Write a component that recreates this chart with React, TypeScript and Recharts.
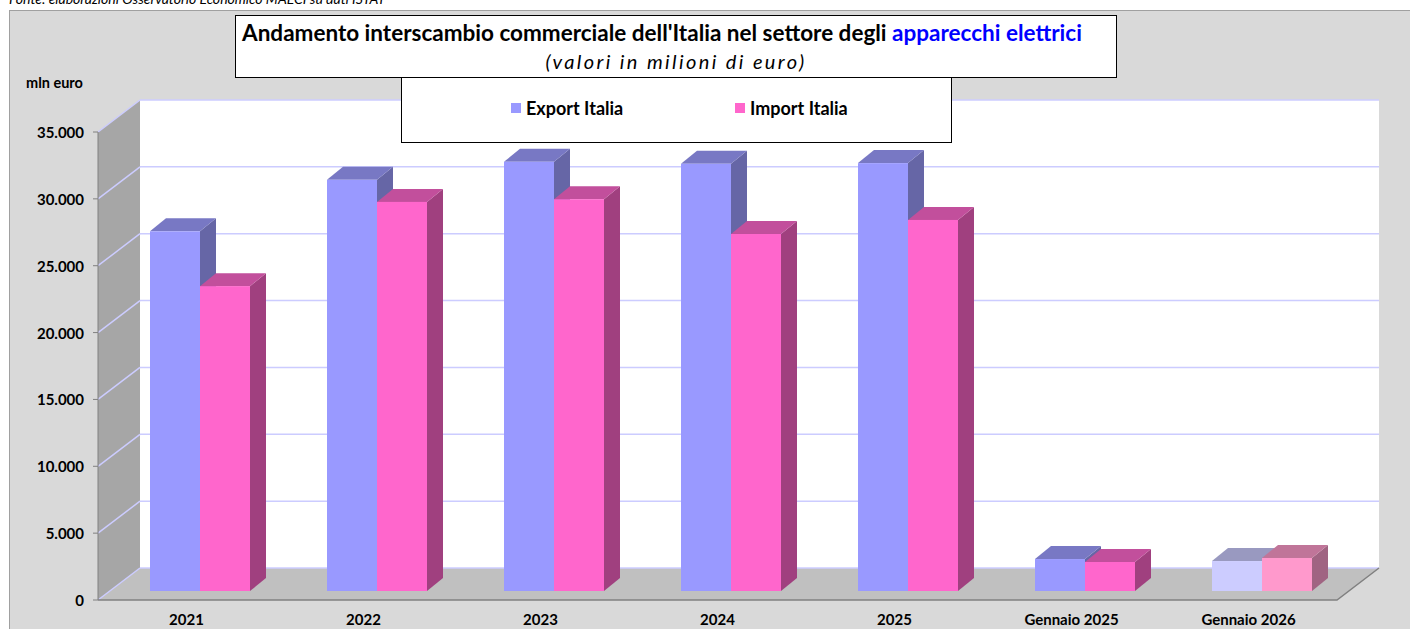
import React from 'react';
import { BarChart, Bar, XAxis, YAxis, Legend } from 'recharts';

const categories = ['2021', '2022', '2023', '2024', '2025', 'Gennaio 2025', 'Gennaio 2026'];
const exportValues = [26900, 30750, 32100, 31950, 32000, 2390, 2240];
const importValues = [22800, 29100, 29300, 26700, 27750, 2170, 2470];
const yTicks = [0, 5000, 10000, 15000, 20000, 25000, 30000, 35000];
const lightCategories = ['Gennaio 2026'];

const data = categories.map((name, i) => ({
  name,
  exportItalia: exportValues[i],
  importItalia: importValues[i],
}));

// layout of the 3d box (front plane = recharts plot area)
const W = 1410;
const H = 629;
const PLOT_LEFT = 98;
const PLOT_RIGHT = 1337;
const PLOT_TOP = 132;
const PLOT_BOTTOM = 600;
const WALL_DX = 42;
const WALL_DY = 32;
const BAR_SHIFT_X = 13;
const BAR_SHIFT_Y = 9;
const BOX_DX = 16;
const BOX_DY = 13;
const Y_MAX = 35000;

const FONT = 'Lato, "Open Sans", sans-serif';

const palettes = {
  exportItalia: {
    normal: { front: '#9999ff', top: '#7878c4', side: '#6666a6' },
    light: { front: '#ccccff', top: '#9999c0', side: '#8585a8' },
  },
  importItalia: {
    normal: { front: '#ff66cc', top: '#c24f9c', side: '#a0407f' },
    light: { front: '#ff99cc', top: '#c07599', side: '#a06482' },
  },
};

const fmt = (v: number) => String(v).replace(/\B(?=(\d{3})+(?!\d))/g, '.');

const yOf = (v: number) => PLOT_BOTTOM - (v / Y_MAX) * (PLOT_BOTTOM - PLOT_TOP);

const makeBox = (key: 'exportItalia' | 'importItalia') => (props: any) => {
  const { x, y, width, height, payload } = props;
  if (width == null || height == null) return null;
  const light = lightCategories.includes(payload?.name);
  const c = light ? palettes[key].light : palettes[key].normal;
  const fx = x + BAR_SHIFT_X;
  const fy = y - BAR_SHIFT_Y;
  const fb = fy + height;
  const r = fx + width;
  return (
    <g>
      <polygon
        points={`${r},${fy} ${r + BOX_DX},${fy - BOX_DY} ${r + BOX_DX},${fb - BOX_DY} ${r},${fb}`}
        fill={c.side}
      />
      <polygon
        points={`${fx},${fy} ${fx + BOX_DX},${fy - BOX_DY} ${r + BOX_DX},${fy - BOX_DY} ${r},${fy}`}
        fill={c.top}
      />
      <rect x={fx} y={fy} width={width} height={height} fill={c.front} />
    </g>
  );
};

const Walls = () => {
  const bl = PLOT_LEFT + WALL_DX;
  const br = PLOT_RIGHT + WALL_DX;
  const bt = PLOT_TOP - WALL_DY;
  const bb = PLOT_BOTTOM - WALL_DY;
  return (
    <svg width={W} height={H} style={{ position: 'absolute', left: 0, top: 0 }}>
      <rect x={bl} y={bt} width={br - bl} height={bb - bt} fill="#ffffff" />
      <polygon
        points={`${PLOT_LEFT},${PLOT_TOP} ${bl},${bt} ${bl},${bb} ${PLOT_LEFT},${PLOT_BOTTOM}`}
        fill="#a6a6a6"
      />
      <polygon
        points={`${PLOT_LEFT},${PLOT_BOTTOM} ${bl},${bb} ${br},${bb} ${PLOT_RIGHT},${PLOT_BOTTOM}`}
        fill="#c0c0c0"
      />
      {yTicks.map((t) => (
        <g key={t} stroke="#ccccff" strokeWidth={1.5}>
          <line x1={PLOT_LEFT} y1={yOf(t)} x2={bl} y2={yOf(t) - WALL_DY} />
          <line x1={bl} y1={yOf(t) - WALL_DY} x2={br} y2={yOf(t) - WALL_DY} />
        </g>
      ))}
      <polyline
        points={`${PLOT_LEFT},${PLOT_BOTTOM} ${PLOT_RIGHT},${PLOT_BOTTOM} ${br},${bb}`}
        fill="none"
        stroke="#808080"
        strokeWidth={1.5}
      />
    </svg>
  );
};

const YTick = ({ x, y, payload }: any) => (
  <text x={x - 7} y={y} textAnchor="end" dominantBaseline="central"
    fontFamily={FONT} fontWeight={700} fontSize={15} fill="#000">
    {fmt(payload.value)}
  </text>
);

const XTick = ({ x, y, payload }: any) => (
  <text x={x} y={y + 17} textAnchor="middle"
    fontFamily={FONT} fontWeight={700} fontSize={15} fill="#000">
    {payload.value}
  </text>
);

const LegendBox = ({ payload }: any) => (
  <div style={{
    width: 551, height: 68, boxSizing: 'border-box', border: '1.5px solid #000',
    background: '#fff', position: 'relative', fontFamily: FONT,
  }}>
    {(payload || []).map((p: any, i: number) => (
      <div key={p.value} style={{
        position: 'absolute', left: i === 0 ? 109 : 333, top: 20,
        display: 'flex', alignItems: 'center', height: 24,
      }}>
        <span style={{ width: 10, height: 10, background: p.color, display: 'inline-block', marginRight: 5 }} />
        <span style={{ fontWeight: 700, fontSize: 18, color: '#000' }}>
          {p.value}
        </span>
      </div>
    ))}
  </div>
);

export default function App() {
  return (
    <div style={{ position: 'absolute', left: 0, top: 0, width: W, height: H, background: '#fff', overflow: 'hidden', fontFamily: FONT }}>
      <div style={{ position: 'absolute', left: 9, top: -10, fontSize: 14, lineHeight: '17px', fontStyle: 'italic', color: '#000', whiteSpace: 'nowrap' }}>
        Fonte: elaborazioni Osservatorio Economico MAECI su dati ISTAT
      </div>
      <div style={{
        position: 'absolute', left: 9, top: 10, width: W - 9, height: H - 10,
        background: '#d9d9d9', borderLeft: '1px solid #a0a0a0', borderTop: '1px solid #a0a0a0', boxSizing: 'border-box',
      }} />
      <Walls />
      <div style={{ position: 'absolute', left: 0, top: 0 }}>
        <BarChart
          width={W}
          height={H}
          data={data}
          margin={{ top: PLOT_TOP, right: W - PLOT_RIGHT, left: PLOT_LEFT - 60, bottom: 0 }}
          barSize={50}
          barGap={0}
        >
          <XAxis dataKey="name" height={H - PLOT_BOTTOM} axisLine={false} tickLine={false} tick={<XTick />} interval={0} />
          <YAxis
            width={60}
            domain={[0, Y_MAX]}
            ticks={yTicks}
            interval={0}
            axisLine={{ stroke: '#808080' }}
            tickLine={{ stroke: '#808080' }}
            tickSize={5}
            tick={<YTick />}
          />
          <Legend
            layout="horizontal"
            verticalAlign="middle"
            align="center"
            content={<LegendBox />}
            wrapperStyle={{ position: 'absolute', left: 401, top: 75, width: 551, height: 68 }}
          />
          <Bar dataKey="exportItalia" name="Export Italia" fill="#9999ff" shape={makeBox('exportItalia')} isAnimationActive={false} />
          <Bar dataKey="importItalia" name="Import Italia" fill="#ff66cc" shape={makeBox('importItalia')} isAnimationActive={false} />
        </BarChart>
      </div>
      <div style={{
        position: 'absolute', left: 235, top: 15, width: 882, height: 63, boxSizing: 'border-box',
        border: '1px solid #000', background: '#fff', textAlign: 'center', color: '#000', zIndex: 1,
      }}>
        <div style={{ fontWeight: 700, fontSize: 22.5, lineHeight: '34px', whiteSpace: 'nowrap', transform: 'translateX(-14px)' }}>
          Andamento interscambio commerciale dell'Italia nel settore degli <span style={{ color: '#0000ff' }}>apparecchi elettrici</span>
        </div>
        <div style={{ fontStyle: 'italic', fontSize: 20, lineHeight: '22px', letterSpacing: 2.4 }}>(valori in milioni di euro)</div>
      </div>
      <div style={{ position: 'absolute', left: 26, top: 74, fontWeight: 700, fontSize: 14.5, lineHeight: '18px', color: '#000' }}>mln euro</div>
    </div>
  );
}
